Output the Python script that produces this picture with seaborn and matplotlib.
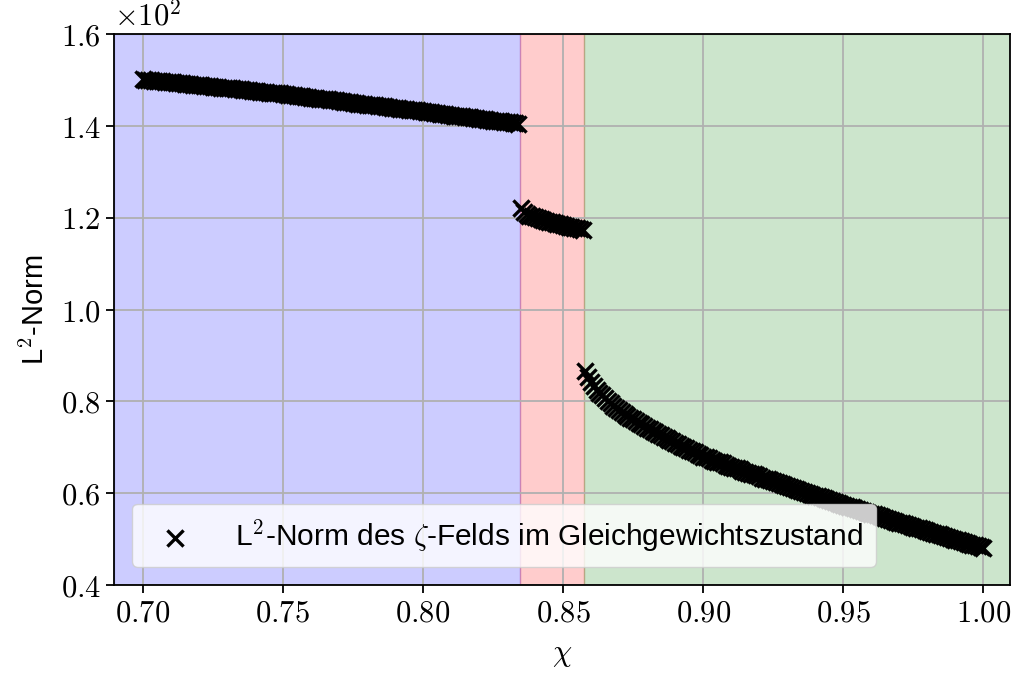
import numpy as np
import pandas as pd
import matplotlib
matplotlib.use("Agg")
import matplotlib.pyplot as plt
from matplotlib.ticker import FuncFormatter
import seaborn as sns

# ---------------- data (L2-norm, in units of 10^0; axis shows x10^2) ----------------
norm_blue = [
    150.2, 150.1, 150.1, 150.0, 149.9, 149.9, 149.8, 149.8, 149.7, 149.6,
    149.6, 149.5, 149.4, 149.4, 149.3, 149.2, 149.2, 149.1, 149.0, 149.0,
    148.9, 148.9, 148.8, 148.7, 148.7, 148.6, 148.5, 148.5, 148.4, 148.3,
    148.3, 148.2, 148.2, 148.1, 148.0, 148.0, 147.9, 147.8, 147.8, 147.7,
    147.6, 147.6, 147.5, 147.4, 147.4, 147.3, 147.3, 147.2, 147.1, 147.1,
    147.0, 146.9, 146.8, 146.8, 146.7, 146.6, 146.5, 146.5, 146.4, 146.3,
    146.2, 146.2, 146.1, 146.0, 145.9, 145.9, 145.8, 145.7, 145.6, 145.6,
    145.5, 145.4, 145.3, 145.2, 145.2, 145.1, 145.0, 144.9, 144.9, 144.8,
    144.7, 144.6, 144.6, 144.5, 144.4, 144.3, 144.3, 144.2, 144.1, 144.0,
    144.0, 143.9, 143.8, 143.7, 143.7, 143.6, 143.5, 143.4, 143.4, 143.3,
    143.2, 143.1, 143.0, 143.0, 142.9, 142.8, 142.7, 142.6, 142.6, 142.5,
    142.4, 142.3, 142.3, 142.2, 142.1, 142.0, 141.9, 141.9, 141.8, 141.7,
    141.6, 141.5, 141.5, 141.4, 141.3, 141.2, 141.2, 141.1, 141.0, 140.9,
    140.8, 140.8, 140.7, 140.6, 140.5,
]
norm_red = [
    122.1, 121.2, 120.8, 120.5, 120.3, 120.1, 119.9, 119.7, 119.5, 119.4,
    119.2, 119.0, 118.9, 118.7, 118.6, 118.4, 118.3, 118.1, 118.0, 117.8,
    117.7, 117.5, 117.3,
]
norm_green = [
    86.7, 85.3, 84.3, 83.4, 82.6, 81.9, 81.3, 80.7, 80.1, 79.6,
    79.1, 78.6, 78.1, 77.7, 77.3, 76.9, 76.5, 76.1, 75.7, 75.3,
    75.0, 74.6, 74.3, 73.9, 73.6, 73.3, 72.9, 72.6, 72.3, 72.0,
    71.6, 71.3, 71.0, 70.7, 70.4, 70.1, 69.8, 69.5, 69.2, 68.9,
    68.6, 68.3, 68.0,
    67.8, 67.6, 67.3, 67.1, 66.9, 66.7, 66.5, 66.2, 66.0, 65.8,
    65.6, 65.4, 65.2, 64.9, 64.7, 64.5, 64.3, 64.1, 63.9, 63.7,
    63.4, 63.2, 63.0, 62.8, 62.6, 62.4, 62.2, 62.0, 61.8, 61.6,
    61.3, 61.1, 60.9, 60.7, 60.5, 60.3, 60.1, 59.9, 59.7, 59.5,
    59.3, 59.1, 58.9, 58.7, 58.5, 58.3, 58.1, 57.9, 57.7, 57.5,
    57.3, 57.1, 56.9, 56.7, 56.5, 56.3, 56.1, 55.9, 55.7, 55.5,
    55.4, 55.2, 55.0, 54.8, 54.6, 54.4, 54.2, 54.0, 53.8, 53.6,
    53.5, 53.3, 53.1, 52.9, 52.7, 52.5, 52.4, 52.2, 52.0, 51.8,
    51.6, 51.4, 51.2, 51.1, 50.9, 50.7, 50.5, 50.3, 50.1, 49.9,
    49.8, 49.6, 49.4, 49.2, 49.0, 48.8, 48.7, 48.5, 48.3, 48.1,
]
# sampled chi grid (step 0.001) for each regime
chi_blue = np.linspace(0.700, 0.834, len(norm_blue))
chi_red = np.linspace(0.835, 0.857, len(norm_red))
chi_green = np.linspace(0.858, 1.000, len(norm_green))

# regime boundaries
region_edges = [0.8345, 0.8575]
region_colors = ["blue", "red", "green"]

x_ticks = [0.70, 0.75, 0.80, 0.85, 0.90, 0.95, 1.00]
y_ticks = [40, 60, 80, 100, 120, 140, 160]
xlim = (0.6898, 1.0095)
ylim = (40, 160)

legend_label = r"L$^2$-Norm des $\zeta$-Felds im Gleichgewichtszustand"

# ---------------- style ----------------
sns.set_style("ticks")
plt.rcParams["font.family"] = ["Liberation Sans", "DejaVu Sans"]
plt.rcParams["mathtext.fontset"] = "cm"
plt.rcParams["axes.axisbelow"] = "line"
plt.rcParams["text.color"] = "black"
plt.rcParams["axes.labelcolor"] = "black"
plt.rcParams["xtick.color"] = "black"
plt.rcParams["ytick.color"] = "black"

df = pd.DataFrame({
    "chi": np.concatenate([chi_blue, chi_red, chi_green]),
    "norm": norm_blue + norm_red + norm_green,
})

fig = plt.figure(figsize=(10.16, 6.79), dpi=100)
ax = fig.add_axes([0.1122, 0.1384, 0.8819, 0.8111])

bounds = [xlim[0]] + region_edges + [xlim[1]]
for i, c in enumerate(region_colors):
    ax.axvspan(bounds[i], bounds[i + 1], color=c, alpha=0.2, zorder=1)

sns.scatterplot(data=df, x="chi", y="norm", marker="x", color="black",
                s=135, linewidth=2.4, label=legend_label, ax=ax, zorder=3)

ax.set_xlim(*xlim)
ax.set_ylim(*ylim)
ax.set_xticks(x_ticks)
ax.set_yticks(y_ticks)
ax.xaxis.set_major_formatter(FuncFormatter(lambda v, p: f"${v:.2f}$"))
ax.yaxis.set_major_formatter(FuncFormatter(lambda v, p: f"${v/100:.1f}$"))
ax.tick_params(axis="both", labelsize=22, length=6, width=1.3, color="black",
               labelcolor="black")
ax.grid(True, color="#b0b0b0", linewidth=1.3)
for s in ax.spines.values():
    s.set_linewidth(1.3)
    s.set_color("black")

ax.text(0.0, 1.003, r"$\times10^{2}$", transform=ax.transAxes,
        ha="left", va="bottom", fontsize=22, color="black")

ax.set_xlabel(r"$\chi$", fontsize=22, labelpad=8)
ax.set_ylabel(r"L$^2$-Norm", fontsize=21, labelpad=8)

leg = ax.legend(loc="lower left", fontsize=21.5, framealpha=0.8,
                handletextpad=1.0, borderaxespad=0.6, borderpad=0.45)
leg.set_zorder(5)
for t in leg.get_texts():
    t.set_color("black")

fig.savefig("out.png", dpi=100)
